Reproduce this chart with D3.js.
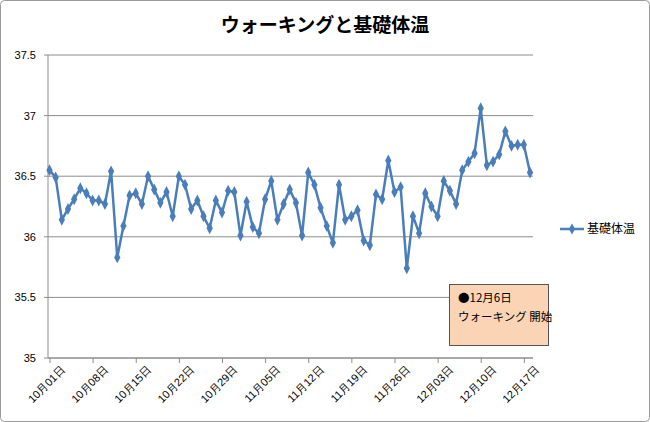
<!DOCTYPE html>
<html><head><meta charset="utf-8">
<script src="https://cdn.jsdelivr.net/npm/d3@7"></script>
<style>body{margin:0;background:#fff}svg{font-family:"Noto Sans CJK JP",sans-serif}</style>
</head><body><svg id="c" width="650" height="422"></svg>
<script>
const title = "ウォーキングと基礎体温";
const seriesName = "基礎体温";
const startDate = [10, 1];
const values = [36.55,36.49,36.14,36.23,36.31,36.40,36.36,36.30,36.30,36.27,36.54,35.83,36.09,36.34,36.36,36.27,36.50,36.39,36.28,36.37,36.17,36.50,36.43,36.23,36.30,36.17,36.07,
36.30,36.20,36.38,36.37,36.01,36.29,36.08,36.03,36.31,36.46,36.14,36.27,36.39,36.28,36.01,36.53,36.43,36.24,36.09,35.95,36.43,36.14,36.17,
36.22,35.97,35.93,36.35,36.31,36.63,36.37,36.41,35.74,36.17,36.03,36.36,36.25,36.17,36.46,36.38,36.27,36.55,36.62,36.69,37.06,36.59,36.62,36.68,36.87,36.75,36.76,36.76,36.53];
const yTicks = [35, 35.5, 36, 36.5, 37, 37.5];
const yTickLabels = ["35","35.5","36","36.5","37","37.5"];
const noteLines = ["●12月6日", "ウォーキング 開始"];

const dates = values.map((v,i)=>{const d=new Date(2020,startDate[0]-1,startDate[1]+i);return (d.getMonth()+1)+"月"+String(d.getDate()).padStart(2,"0")+"日";});
const svg = d3.select("#c");
svg.append("rect").attr("x",0.5).attr("y",0.5).attr("width",649).attr("height",421).attr("rx",4).attr("fill","#fff").attr("stroke","#9a9a9a");
svg.append("text").attr("x",325).attr("y",32).attr("text-anchor","middle").attr("font-size",19).attr("font-weight","bold").text(title);

const x = d3.scaleLinear().domain([0, values.length-1]).range([49.5, 530]);
const y = d3.scaleLinear().domain([35, 37.5]).range([358, 55]);
const L=48, R=533;
yTicks.forEach((t,i)=>{
  svg.append("line").attr("x1",L).attr("x2",R).attr("y1",y(t)).attr("y2",y(t)).attr("stroke","#8c8c8c").attr("stroke-width",1);
  svg.append("text").attr("x",36).attr("y",y(t)+4).attr("text-anchor","end").attr("font-size",11).attr("font-family","Liberation Sans, Arial").text(yTickLabels[i]);
});
svg.append("line").attr("x1",L).attr("x2",L).attr("y1",55).attr("y2",358).attr("stroke","#8c8c8c");
for (let t=35;t<=37.5;t+=0.5) svg.append("line").attr("x1",L-4).attr("x2",L).attr("y1",y(t)).attr("y2",y(t)).attr("stroke","#8c8c8c");

const tickIdx = d3.range(0, values.length, 7);
const ax = svg.append("g").attr("transform","translate(0,358)")
  .call(d3.axisBottom(x).tickValues(tickIdx).tickFormat(i=>dates[i]).tickSize(5).tickSizeOuter(0));
ax.select(".domain").attr("stroke","#8c8c8c").attr("d","M"+L+",0H"+R);
ax.selectAll(".tick line").attr("stroke","#8c8c8c");
ax.selectAll("text").attr("fill","#000").attr("font-size",11).attr("text-anchor","end").attr("transform","translate(3,0) rotate(-45)").attr("dx","0").attr("dy","0.9em");

const line = d3.line().x((d,i)=>x(i)).y(d=>y(d));
svg.append("path").datum(values).attr("d",line).attr("fill","none").attr("stroke","#4a7ebb").attr("stroke-width",2.5).attr("stroke-linejoin","round");
const sym = d3.symbol().type(d3.symbolDiamond).size(34);
svg.selectAll(".m").data(values).join("path").attr("transform",(d,i)=>`translate(${x(i)},${y(d)}) scale(1,1.1)`).attr("d",sym).attr("fill","#4a7ebb");

svg.append("line").attr("x1",560).attr("x2",584).attr("y1",229).attr("y2",229).attr("stroke","#4a7ebb").attr("stroke-width",2.5);
svg.append("path").attr("transform","translate(572,229)").attr("d",sym).attr("fill","#4a7ebb");
svg.append("text").attr("x",587).attr("y",233).attr("font-size",12).text(seriesName);

svg.append("rect").attr("x",449.5).attr("y",284.5).attr("width",99).attr("height",61).attr("fill","#fad4b4").attr("stroke","#555");
noteLines.forEach((s,i)=>svg.append("text").attr("x",458).attr("y",302+i*19).attr("font-size",11.5).text(s));
</script></body></html>
